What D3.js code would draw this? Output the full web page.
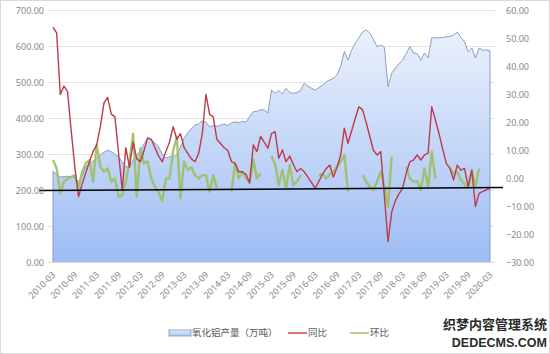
<!DOCTYPE html>
<html><head><meta charset="utf-8">
<script src="https://cdn.jsdelivr.net/npm/d3@7"></script>
<style>html,body{margin:0;padding:0;background:#fff;}svg{display:block;}</style>
</head><body>
<svg id="chart" width="550" height="354"></svg>
<script>
// ---- data ----
const months = d3.timeMonth.range(new Date(2010, 2, 1), new Date(2020, 3, 1)).map(d3.timeFormat("%Y-%m"));
const xTickLabels = ["2010-03","2010-09","2011-03","2011-09","2012-03","2012-09","2013-03","2013-09","2014-03","2014-09","2015-03","2015-09","2016-03","2016-09","2017-03","2017-09","2018-03","2018-09","2019-03","2019-09","2020-03"];
const leftTicks = [0,100,200,300,400,500,600,700];
const rightTicks = [-30,-20,-10,0,10,20,30,40,50,60];
const seriesNames = ["氧化铝产量（万吨）","同比","环比"];
// 氧化铝产量（万吨）
const production = [254,245,238,238,240,238,236,224,240,266,275,282,290,300,306,312,308,300,294,280,266,265,285,300,308,330,346,340,332,322,300,290,294,293,300,320,346,360,372,382,385,393,390,377,380,378,382,385,380,388,391,388,392,390,405,419,420,424,424,415,479,470,478,468,484,472,470,472,478,498,490,484,479,486,492,502,507,512,521,545,586,562,590,610,624,640,646,637,620,599,604,598,488,526,540,552,562,580,600,582,580,562,582,568,624,624,624,625,627,628,632,640,625,613,585,596,568,596,590,590,588];
// 同比 (%)
const yoy = [54,52,30,33,31,17,4,-6.5,-2,2,6,9.6,12,18.5,27,29,23,22,9,-4,11,4,13,7,6,10,14.5,14,11,8,6,9.6,13,18.5,14,16,11,9,7,6,9,16,30,23,22,14,12.5,11,10,6,5.4,2.4,2.4,1.5,-1.7,12,9.6,15,13,10.8,16,16.7,7.2,10.2,6,8,5,2.4,3.6,2.4,0.5,-1.5,-3.5,-1,1.5,3.5,4.8,0.5,4,8.4,18,12.6,17,21.5,25.6,24.5,20,15,10,8.4,9.6,-6.5,-22.6,-12,-8,-5.5,-3.5,2,6,6.6,8.4,6.6,8.4,9,25.6,21,16,10.5,5.4,3.6,-0.5,4.8,3,3.6,-2.9,3,-10,-5.3,-4.6,-4.1,-3.5];
// 环比 (%), null = missing
const mom = [6.6,3.6,-5.3,-1.1,0,0.6,1.2,-3.5,2.4,5.4,6.6,-1.1,12,4.2,2.4,3.6,-1.1,0,-6.5,-6,-1,6,16,-6.5,10.8,5.4,6,0,-3,-5,-8,0,0,10,14.9,-7,6,3,4,1.2,0,1.2,1.2,-4.7,1.2,-3.5,null,null,null,-4.7,5.4,0,2.4,0,-1.1,6.6,0,1.8,null,null,8,5,-2.3,3,-3.5,4.8,-2.3,-1.1,1.2,null,null,null,null,1.2,1.5,0,1.5,2.4,4.2,6,8.4,-4.7,null,null,null,1.2,-1,-3,-4.1,-1,2.4,-3,-10,7.8,null,null,null,4.2,0,-1.1,-1,-4.1,3.6,-2.9,9.6,0,null,null,null,3.6,1.8,2.4,-0.5,-2,-3.5,3,-2.9,3.6,null,null,null];

// ---- chart ----
const svg = d3.select("#chart");
const plotL = 48, plotR = 495;
const x = d3.scalePoint().domain(months).range([53, 490]);
const yL = d3.scaleLinear().domain([0, 700]).range([262.5, 10.5]);
const yR = d3.scaleLinear().domain([-30, 60]).range([262.5, 10.5]);
const numFont = "'Noto Sans', 'Liberation Sans', sans-serif";
const cjkFont = "'Noto Sans CJK SC', 'Noto Sans', sans-serif";

svg.append("rect").attr("x",0.5).attr("y",0.5).attr("width",549).attr("height",353)
  .attr("fill","#fff").attr("stroke","#d9d9d9");

const defs = svg.append("defs");
const grad = defs.append("linearGradient").attr("id","areaGrad")
  .attr("gradientUnits","userSpaceOnUse").attr("x1",0).attr("y1",25).attr("x2",0).attr("y2",262);
grad.append("stop").attr("offset","0%").attr("stop-color","#edf2fc");
grad.append("stop").attr("offset","100%").attr("stop-color","#9dbdf4");
const lgrad = defs.append("linearGradient").attr("id","legGrad").attr("x1",0).attr("y1",0).attr("x2",0).attr("y2",1);
lgrad.append("stop").attr("offset","0%").attr("stop-color","#e4ecfb");
lgrad.append("stop").attr("offset","100%").attr("stop-color","#a9c5f5");

// gridlines
svg.append("g").selectAll("line").data(leftTicks.filter(d => d > 0)).join("line")
  .attr("x1", plotL).attr("x2", plotR)
  .attr("y1", d => yL(d)).attr("y2", d => yL(d))
  .attr("stroke", "#e3e3e3").attr("stroke-width", 1);

// area
const area = d3.area().x((d, i) => x(months[i])).y0(yL(0)).y1(d => yL(d));
svg.append("path").datum(production).attr("d", area)
  .attr("fill", "url(#areaGrad)").attr("stroke", "#7f95ba").attr("stroke-width", 0.9);

// x axis line
svg.append("line").attr("x1", plotL).attr("x2", plotR).attr("y1", yL(0)).attr("y2", yL(0))
  .attr("stroke", "#d9d9d9");

// lines
const lineR = d3.line().defined(d => d !== null).x((d, i) => x(months[i])).y(d => yR(d));
svg.append("path").datum(mom).attr("d", lineR)
  .attr("fill", "none").attr("stroke", "#9cbf62").attr("stroke-width", 2.4)
  .attr("stroke-opacity", 0.9).attr("stroke-linejoin", "round");
svg.append("path").datum(yoy).attr("d", lineR)
  .attr("fill", "none").attr("stroke", "#be3a4a").attr("stroke-width", 1.4)
  .attr("stroke-linejoin", "round");

// annotation line (hand drawn)
svg.append("line").attr("x1", 39).attr("x2", 503)
  .attr("y1", yL(200)).attr("y2", yL(208))
  .attr("stroke", "#000").attr("stroke-width", 1.5);

// left axis labels
svg.append("g").selectAll("text").data(leftTicks).join("text")
  .attr("x", 44).attr("y", d => yL(d)).attr("dy", "0.35em")
  .attr("text-anchor", "end").attr("font-family", numFont).attr("font-size", 9)
  .attr("fill", "#8a8a8a").text(d => d3.format(".2f")(d));
// right axis labels
svg.append("g").selectAll("text").data(rightTicks).join("text")
  .attr("x", 506).attr("y", d => yR(d)).attr("dy", "0.35em")
  .attr("text-anchor", "start").attr("font-family", numFont).attr("font-size", 9)
  .attr("fill", "#8a8a8a").text(d => d3.format(".2f")(d));
// x labels
svg.append("g").selectAll("text").data(xTickLabels).join("text")
  .attr("transform", d => `translate(${x(d) + 1},${273}) rotate(-45)`)
  .attr("text-anchor", "end").attr("dy", "0.35em")
  .attr("font-family", numFont).attr("font-size", 9)
  .attr("fill", "#8a8a8a").text(d => d);

// legend
const lg = svg.append("g").attr("font-family", cjkFont).attr("font-size", 9.5).attr("fill", "#595959");
const ly = 333;
lg.append("rect").attr("x", 169).attr("y", ly - 3).attr("width", 22).attr("height", 6)
  .attr("fill", "url(#legGrad)").attr("stroke", "#7f95ba").attr("stroke-width", 0.8);
lg.append("text").attr("x", 192).attr("y", ly).attr("dy", "0.35em").text(seriesNames[0]);
lg.append("line").attr("x1", 288).attr("x2", 307).attr("y1", ly).attr("y2", ly)
  .attr("stroke", "#be3a4a").attr("stroke-width", 1.4);
lg.append("text").attr("x", 308).attr("y", ly).attr("dy", "0.35em").text(seriesNames[1]);
lg.append("line").attr("x1", 350).attr("x2", 369).attr("y1", ly).attr("y2", ly)
  .attr("stroke", "#9cbf62").attr("stroke-width", 1.4);
lg.append("text").attr("x", 370).attr("y", ly).attr("dy", "0.35em").text(seriesNames[2]);

// watermark
const wm = svg.append("g").attr("font-family", cjkFont).attr("font-weight", "bold")
  .attr("text-anchor", "end").attr("fill", "#2b2b2b").attr("stroke", "#fff")
  .attr("stroke-width", 2).attr("paint-order", "stroke");
wm.append("text").attr("x", 547).attr("y", 329).attr("font-size", 13).text("织梦内容管理系统");
wm.append("text").attr("x", 547).attr("y", 347).attr("font-size", 12.5).attr("font-family", "'Liberation Sans', Arial, sans-serif").text("DEDECMS.COM");
</script>
</body></html>
